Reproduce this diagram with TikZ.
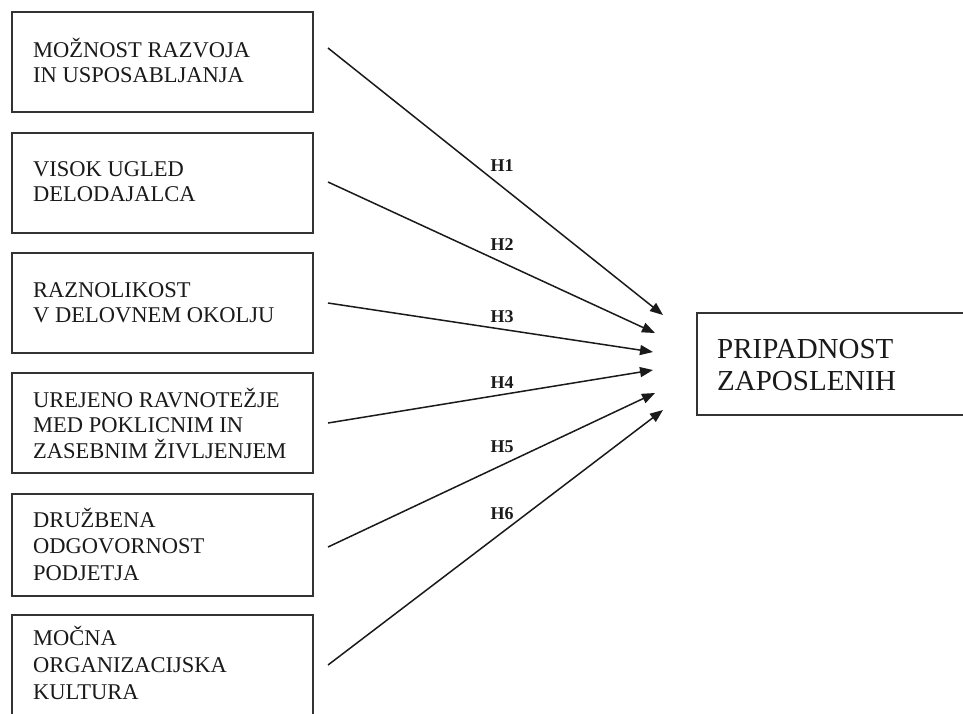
\documentclass[tikz,border=0pt]{standalone}
\usepackage{fontspec}
\setmainfont{Liberation Serif}
\usetikzlibrary{arrows.meta}
\definecolor{ink}{HTML}{1A1A1A}
\definecolor{frame}{HTML}{333333}
\tikzset{
  box/.style={draw=frame, line width=1.6pt, minimum width=301pt, inner sep=0pt, fill=none},
  ltext/.style={anchor=base west, inner sep=0pt, text=ink},
  hyp/.style={anchor=base, inner sep=0pt, text=ink, font=\fontsize{18}{20}\selectfont\bfseries},
  link/.style={draw=ink, line width=1.5pt, -{Triangle[length=13pt,width=10pt]}}
}
\begin{document}
\begin{tikzpicture}[x=1pt,y=-1pt]
\useasboundingbox (0,0) rectangle (963,713);
\fill[white] (0,0) rectangle (963,713);
% left boxes
\node[box, minimum height=100pt] (b1) at (162.5,62) {};
\node[box, minimum height=100pt] (b2) at (162.5,183) {};
\node[box, minimum height=100pt] (b3) at (162.5,303) {};
\node[box, minimum height=100pt] (b4) at (162.5,423) {};
\node[box, minimum height=102pt] (b5) at (162.5,545) {};
\node[box, minimum height=120pt] (b6) at (162.5,675) {};
% right box
\node[box, minimum width=290pt, minimum height=102pt] (r) at (842,364) {};
% texts
\node[ltext, font=\fontsize{22.5}{25}\selectfont] (t1) at (33,57)
  {\begin{tabular}[t]{@{}l@{}}MOŽNOST RAZVOJA\\IN USPOSABLJANJA\end{tabular}};
\node[ltext, font=\fontsize{22.5}{25}\selectfont] (t2) at (33,176)
  {\begin{tabular}[t]{@{}l@{}}VISOK UGLED\\DELODAJALCA\end{tabular}};
\node[ltext, font=\fontsize{22.5}{25}\selectfont] (t3) at (33,297)
  {\begin{tabular}[t]{@{}l@{}}RAZNOLIKOST\\V DELOVNEM OKOLJU\end{tabular}};
\node[ltext, font=\fontsize{22.5}{25}\selectfont] (t4) at (33,407)
  {\begin{tabular}[t]{@{}l@{}}UREJENO RAVNOTEŽJE\\MED POKLICNIM IN\\ZASEBNIM ŽIVLJENJEM\end{tabular}};
\node[ltext, font=\fontsize{22.5}{26.5}\selectfont] (t5) at (33,527)
  {\begin{tabular}[t]{@{}l@{}}DRUŽBENA\\ODGOVORNOST\\PODJETJA\end{tabular}};
\node[ltext, font=\fontsize{22.5}{27}\selectfont] (t6) at (33,645)
  {\begin{tabular}[t]{@{}l@{}}MOČNA\\ORGANIZACIJSKA\\KULTURA\end{tabular}};
\node[ltext, font=\fontsize{29}{32}\selectfont] (tr) at (717,358)
  {\begin{tabular}[t]{@{}l@{}}PRIPADNOST\\ZAPOSLENIH\end{tabular}};
% connector ends
\coordinate (s1) at (328,48);   \coordinate (e1) at (663,315);
\coordinate (s2) at (328,182);  \coordinate (e2) at (655,333);
\coordinate (s3) at (328,303);  \coordinate (e3) at (653,352);
\coordinate (s4) at (328,423);  \coordinate (e4) at (653,370);
\coordinate (s5) at (328,547);  \coordinate (e5) at (655,393);
\coordinate (s6) at (328,665);  \coordinate (e6) at (663,410);
\draw[link] (s1) -- (e1);
\draw[link] (s2) -- (e2);
\draw[link] (s3) -- (e3);
\draw[link] (s4) -- (e4);
\draw[link] (s5) -- (e5);
\draw[link] (s6) -- (e6);
% labels
\node[hyp] (h1) at (502,171) {H1};
\node[hyp] (h2) at (502,250) {H2};
\node[hyp] (h3) at (502,322) {H3};
\node[hyp] (h4) at (502,388) {H4};
\node[hyp] (h5) at (502,452) {H5};
\node[hyp] (h6) at (502,519) {H6};
\end{tikzpicture}
\end{document}
